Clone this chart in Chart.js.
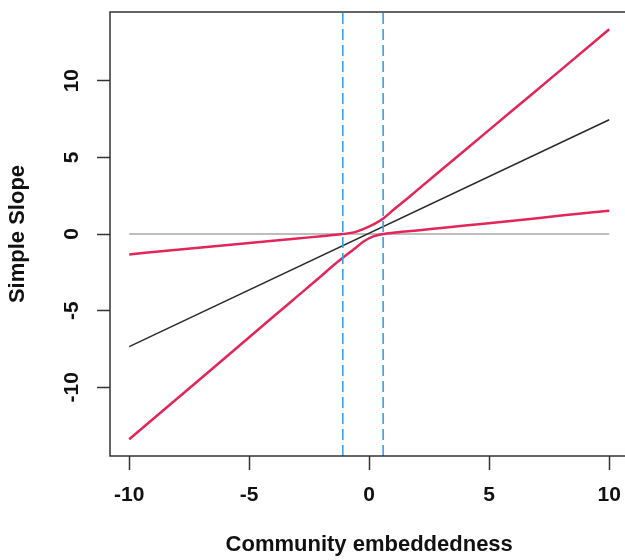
<!doctype html>
<html lang="en">
<head>
    <meta charset="utf-8">
    <script src="https://cdn.jsdelivr.net/npm/chart.js@4.4.0/dist/chart.umd.min.js"></script>
    <style>
        html, body { margin: 0; padding: 0; background: #fff; overflow: hidden; }
        #wrap { width: 640px; height: 560px; }
    </style>
</head>
<body>
<div id="wrap"><canvas id="myChart"></canvas></div>
<script>
    // tick labels
    var xTicks = [-10, -5, 0, 5, 10];
    var yTicks = [-10, -5, 0, 5, 10];

    // moderator values the bands were read at
    var bandX = [-10, -8, -6, -4, -3, -2, -1.5, -1.1, -0.6, -0.25, 0.2, 0.6, 1, 1.5, 2, 3, 4, 6, 8, 10];
    var upperBand = [-1.33, -1.03, -0.74, -0.44, -0.30, -0.14, -0.07, 0.0, 0.12, 0.32, 0.64, 1.03, 1.56, 2.2, 2.86, 4.17, 5.48, 8.1, 10.72, 13.35];
    var lowerBand = [-13.39, -10.73, -8.07, -5.40, -4.07, -2.74, -2.05, -1.55, -0.95, -0.5, -0.14, 0.0, 0.08, 0.16, 0.23, 0.39, 0.55, 0.87, 1.2, 1.52];

    // simple slope line and zero reference
    var slopeX = [-10, 10];
    var slopeY = [-7.35, 7.45];
    var zeroY = [0, 0];

    // Johnson-Neyman boundaries
    var jnBounds = [-1.1, 0.58];

    var xMin = -10.8, xMax = 10.8;
    var yMin = -14.48, yMax = 14.48;

    function pts(xs, ys) {
        return xs.map((x, i) => ({ x: x, y: ys[i] }));
    }

    var datasets = [
        { data: pts(slopeX, zeroY), borderColor: '#a8a8a8', borderWidth: 1.5, order: 5 },
        { data: pts(slopeX, slopeY), borderColor: '#2a2a2a', borderWidth: 1.5, order: 4 },
        { data: pts(bandX, upperBand), borderColor: '#e3265a', borderWidth: 2.5, cubicInterpolationMode: 'monotone', order: 3 },
        { data: pts(bandX, lowerBand), borderColor: '#e3265a', borderWidth: 2.5, cubicInterpolationMode: 'monotone', order: 2 },
    ];
    jnBounds.forEach(function (b) {
        datasets.push({ data: [{ x: b, y: yMin }, { x: b, y: yMax }], borderColor: '#3d9fe3', borderWidth: 1.6, borderDash: [11, 5], order: 1 });
    });
    datasets.forEach(function (d) { d.showLine = true; d.pointRadius = 0; d.fill = false; });

    const boxPlugin = {
        id: 'box',
        afterDraw(chart) {
            const ctx = chart.ctx, a = chart.chartArea, ys = chart.scales.y;
            ctx.save();
            ctx.strokeStyle = '#333';
            ctx.lineWidth = 1.5;
            ctx.strokeRect(a.left, a.top, a.right - a.left, a.bottom - a.top);
            // rotated y tick labels, as R draws them
            ctx.fillStyle = '#111';
            ctx.font = 'bold 21px "Liberation Sans", Arial, sans-serif';
            ctx.textAlign = 'center';
            ctx.textBaseline = 'middle';
            yTicks.forEach(function (v) {
                ctx.save();
                ctx.translate(72, ys.getPixelForValue(v));
                ctx.rotate(-Math.PI / 2);
                ctx.fillText(String(v), 0, 0);
                ctx.restore();
            });
            ctx.restore();
        }
    };

    var ctx = document.getElementById('myChart');
    var chart = new Chart(ctx, {
        type: 'scatter',
        data: { datasets: datasets },
        plugins: [boxPlugin],
        options: {
            responsive: true,
            maintainAspectRatio: false,
            animation: false,
            devicePixelRatio: 1,
            layout: { padding: { left: 0, top: 12, right: 11.6, bottom: 0 } },
            plugins: { legend: { display: false }, tooltip: { enabled: false } },
            scales: {
                x: {
                    type: 'linear', min: xMin, max: xMax,
                    afterBuildTicks: s => { s.ticks = xTicks.map(v => ({ value: v })); },
                    afterFit: s => { s.height = 104; },
                    border: { display: false },
                    grid: { drawOnChartArea: false, drawTicks: true, tickLength: 14, tickColor: '#333', tickWidth: 1.5 },
                    ticks: { color: '#111', padding: 13, maxRotation: 0, font: { family: '"Liberation Sans", Arial', size: 21, weight: 'bold' } },
                    title: { display: true, text: 'Community embeddedness', color: '#111', padding: { top: 0, bottom: 2 },
                        font: { family: '"Liberation Sans", Arial', size: 22, weight: 'bold' } }
                },
                y: {
                    type: 'linear', min: yMin, max: yMax,
                    afterBuildTicks: s => { s.ticks = yTicks.map(v => ({ value: v })); },
                    afterFit: s => { s.width = 110; },
                    border: { display: false },
                    grid: { drawOnChartArea: false, drawTicks: true, tickLength: 13, tickColor: '#333', tickWidth: 1.5 },
                    ticks: { display: false },
                    title: { display: true, text: 'Simple Slope', color: '#111', padding: { top: 5, bottom: 0 },
                        font: { family: '"Liberation Sans", Arial', size: 22, weight: 'bold' } }
                }
            }
        }
    });
</script>
</body>
</html>
